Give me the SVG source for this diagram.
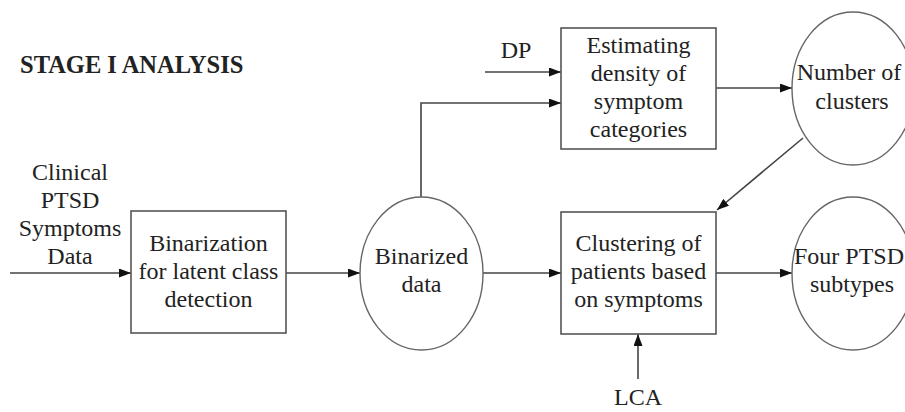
<svg xmlns="http://www.w3.org/2000/svg" width="905" height="412" viewBox="0 0 905 412">
<defs>
<marker id="ah" markerWidth="12" markerHeight="9" refX="12" refY="4.5" orient="auto" markerUnits="userSpaceOnUse">
<path d="M0,0 L12,4.5 L0,9 Z" fill="#111"/>
</marker>
<style>
text{font-family:"Liberation Serif","Times New Roman",serif;font-size:24px;fill:#222;text-anchor:middle}
.title{font-weight:bold;text-anchor:start;font-size:24.5px}
.box{fill:#fff;stroke:#555;stroke-width:1.6}
.ell{fill:#fff;stroke:#666;stroke-width:1.4}
.c{fill:none;stroke:#444;stroke-width:1.6;marker-end:url(#ah)}
</style>
</defs>
<rect width="905" height="412" fill="#fff"/>
<text class="title" x="20" y="73">STAGE I ANALYSIS</text>
<g id="connectors">
<path class="c" d="M10,273 L131,273"/>
<path class="c" d="M286,273 L360,273"/>
<path class="c" d="M421,197 L421,103 L561,103"/>
<path class="c" d="M485,72 L561,72"/>
<path class="c" d="M716,88 L792,88"/>
<path class="c" d="M803,138 L717,210"/>
<path class="c" d="M483,273 L561,273"/>
<path class="c" d="M716,273 L792,273"/>
<path class="c" d="M638,379 L638,334"/>
</g>
<g id="input">
<text x="70" y="180">Clinical</text>
<text x="70" y="208">PTSD</text>
<text x="70" y="236">Symptoms</text>
<text x="70" y="264">Data</text>
</g>
<g id="binarization">
<rect class="box" x="131" y="211" width="155" height="122"/>
<text x="208.5" y="251">Binarization</text>
<text x="208.5" y="279">for latent class</text>
<text x="208.5" y="307">detection</text>
</g>
<g id="binarized">
<ellipse class="ell" cx="421.5" cy="273.5" rx="61.5" ry="76.5"/>
<text x="421.5" y="264">Binarized</text>
<text x="421.5" y="292">data</text>
</g>
<g id="dp">
<text x="516" y="58">DP</text>
</g>
<g id="estimating">
<rect class="box" x="561" y="28" width="155" height="121"/>
<text x="638.5" y="53">Estimating</text>
<text x="638.5" y="81">density of</text>
<text x="638.5" y="109">symptom</text>
<text x="638.5" y="137">categories</text>
</g>
<g id="clusters">
<ellipse class="ell" cx="853" cy="88.5" rx="61" ry="76.5"/>
<text x="849" y="80">Number of</text>
<text x="852" y="109">clusters</text>
</g>
<g id="clustering">
<rect class="box" x="561" y="212" width="155" height="122"/>
<text x="638.5" y="251">Clustering of</text>
<text x="638.5" y="279">patients based</text>
<text x="638.5" y="307">on symptoms</text>
</g>
<g id="subtypes">
<ellipse class="ell" cx="853" cy="273.5" rx="61" ry="76.5"/>
<text x="849" y="264">Four PTSD</text>
<text x="852" y="292">subtypes</text>
</g>
<g id="lca">
<text x="638" y="405">LCA</text>
</g>
</svg>
